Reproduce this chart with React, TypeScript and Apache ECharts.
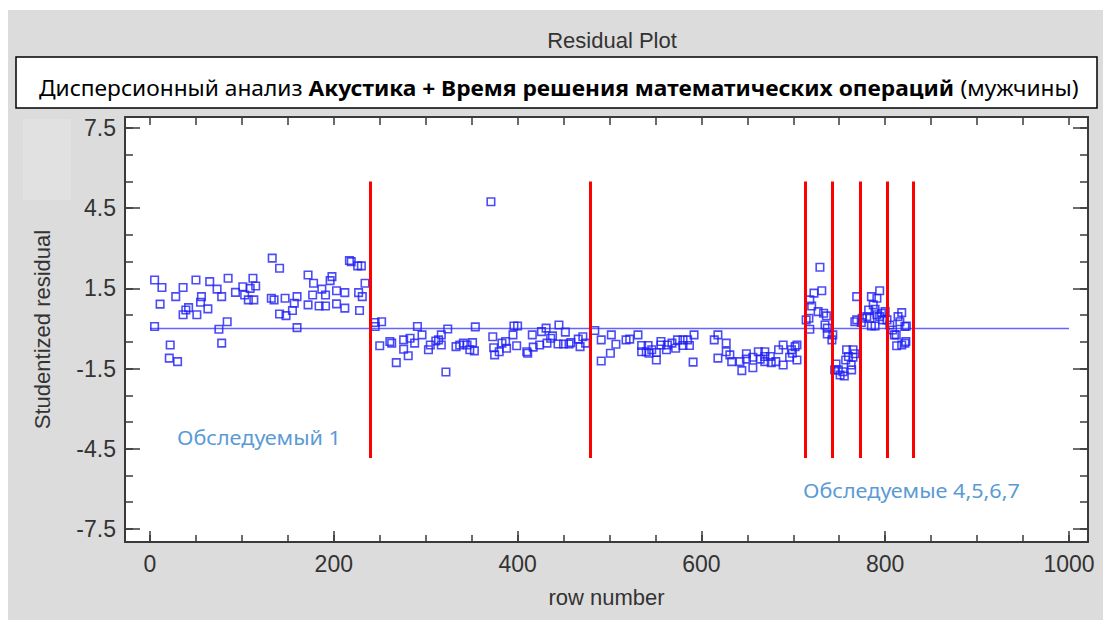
import React, { useEffect, useRef } from "react";
import * as echarts from "echarts";

// ---- Data (row number, studentized residual) ----
const subject1: [number, number][] = [
  [5, 1.81], [13, 1.53], [11, 0.91], [5, 0.07], [22, -0.62], [21, -1.11], [30, -1.24], [28, 1.19],
  [36, 1.53], [42, 0.78], [39, 0.69], [36, 0.51], [50, 1.81], [56, 1.19], [55, 0.98], [51, 0.51],
  [63, 0.73], [65, 1.75], [73, 1.47], [78, 1.19], [85, 1.88], [84, 0.25], [75, -0.03], [78, -0.55],
  [93, 1.35], [101, 1.56], [103, 1.25], [109, 1.5], [112, 1.88], [115, 1.59], [107, 1.07], [113, 1.07],
  [133, 2.63], [141, 2.25], [132, 1.13], [135, 1.07], [147, 1.13], [141, 0.54], [148, 0.48], [155, 0.67],
  [157, 0.94], [160, 1.19], [160, 0.03], [172, 2.0], [178, 1.69], [172, 0.88], [177, 1.25], [187, 1.47],
  [191, 1.25], [184, 0.84], [191, 0.84], [198, 1.94], [196, 1.79], [203, 1.41], [212, 1.34], [203, 0.92],
  [212, 0.76], [217, 2.54], [219, 2.5], [226, 2.34], [230, 2.34], [234, 1.69], [227, 1.34], [231, 1.19],
  [228, 0.67],
];

const subject2: [number, number][] = [
  [245, 0.22], [252, 0.25], [245, 0.07], [250, -0.65], [261, -0.49], [263, -0.55], [268, -1.28],
  [276, -0.43], [276, -0.78], [281, -1.02], [283, -0.37], [288, -0.55], [291, 0.07], [296, -0.24],
  [303, -0.8], [305, -0.62], [311, -0.47], [314, -0.43], [317, -0.62], [317, -0.24], [324, -0.02],
  [322, -1.63], [333, -0.68], [337, -0.62], [341, -0.55], [345, -0.62], [351, -0.53], [348, -0.8],
  [353, -0.84], [354, 0.06], [371, 4.74], [373, -0.31], [374, -0.72], [375, -0.99], [380, -0.87],
  [383, -0.55], [387, -0.49], [388, -0.74], [395, -0.24], [396, 0.09], [400, 0.09], [399, -0.65],
  [410, -0.87], [411, -0.93], [416, -0.24], [417, -0.7], [424, -0.62], [426, -0.12], [431, 0.01],
  [432, -0.55], [436, -0.37], [438, -0.28], [445, 0.13], [444, -0.58], [452, -0.14], [450, -0.58],
  [456, -0.58], [458, -0.53], [466, -0.4], [468, -0.68], [471, -0.31], [474, -0.55],
];

const subject3: [number, number][] = [
  [484, -0.08], [491, -0.43], [491, -1.22], [502, -0.24], [507, -0.59], [501, -0.93], [518, -0.43],
  [522, -0.4], [531, -0.24], [535, -0.64], [542, -0.64], [535, -0.87], [540, -0.87], [543, -0.93],
  [546, -0.8], [551, -1.18], [551, -0.9], [556, -0.49], [556, -0.62], [562, -0.8], [563, -0.62],
  [568, -0.55], [572, -0.74], [574, -0.43], [580, -0.43], [585, -0.43], [580, -0.64], [587, -0.64],
  [592, -0.24], [591, -1.26], [614, -0.43], [618, -0.24], [627, -0.55], [627, -0.87], [618, -1.11],
  [631, -0.99], [633, -1.24], [642, -1.24], [644, -1.58], [649, -0.95], [649, -1.15], [656, -1.08],
  [656, -1.47], [662, -0.87], [664, -1.15], [669, -0.87], [669, -1.05], [669, -1.24], [675, -1.05],
  [676, -1.28], [681, -1.24], [684, -0.8], [689, -0.62], [689, -1.37], [696, -1.08], [698, -0.8],
  [702, -0.68], [704, -0.62], [704, -1.18], [699, -0.93],
];

const subjects4to7: [number, number][] = [
  [729, 2.29], [731, 1.41], [722.5, 1.32], [718, 1.07], [720, 0.84], [727, 0.63], [733, 0.57],
  [736, 0.47], [714, 0.32], [717, 0.38], [718, -0.03], [734.5, 0.13], [737, 0.01], [737, -0.21],
  [743, -0.24], [742, -0.43], [746.5, -1.33], [749, -1.55], [751, -1.74], [745, -1.55], [754, -1.62],
  [755.5, -1.78], [758, -0.8], [760, -1.05], [757, -1.18], [763, -1.37], [763.5, -1.55], [765, -0.8],
  [767, -0.95], [765, -1.08], [769, 1.19], [767, 0.25], [769, 0.32], [775, 0.38], [774, 0.22],
  [780, 0.44], [782, 0.69], [785, 1.19], [787, 0.88], [791, 1.13], [794, 1.41], [789, 0.72],
  [791, 0.51], [783.5, 0.38], [785, 0.09], [789, 0.09], [794, 0.44], [796, 0.57], [797, 0.32],
  [800, 0.63], [802, 0.32], [805, 0.13], [808, -0.06], [810, -0.24], [812, -0.24], [812.5, -0.65],
  [814, 0.44], [816, 0.25], [818, 0.59], [821.5, 0.07], [823, 0.09], [818, -0.62], [821.5, -0.55],
  [822.5, -0.49],
];

// Subject boundaries (row numbers) and the vertical extent of the red separators
const separatorRows = [240, 479, 713, 742, 773, 802, 830];
const separatorTop = 5.5;
const separatorBottom = -4.85;

// Reference (zero) line
const zeroLine: [number, number][] = [[0, 0], [1000, 0]];

// Ticks / labels
const xLabelValues = [0, 200, 400, 600, 800, 1000];
const xMinorValues = Array.from({ length: 21 }, (_, i) => i * 50);
const yLabelValues = [7.5, 4.5, 1.5, -1.5, -4.5, -7.5];
const yMinorValues = Array.from({ length: 16 }, (_, i) => 7.5 - i);

const titleText = "Residual Plot";
const xName = "row number";
const yName = "Studentized residual";
const annotation1 = "Обследуемый 1";
const annotation2 = "Обследуемые 4,5,6,7";

const SANS = "'Liberation Sans', Arial, sans-serif";
const NOTO = "'Noto Sans', 'Open Sans', sans-serif";
const AXIS_COLOR = "#3a3a3a";
const LABEL_COLOR = "#333333";

export default function App() {
  const ref = useRef<HTMLDivElement>(null);

  useEffect(() => {
    if (!ref.current) return;
    const chart = echarts.init(ref.current, undefined, { renderer: "svg" });

    const xRange = { min: -27.2, max: 1020.7 };
    const yRange = { min: -7.99, max: 7.91 };

    const scatterStyle = {
      type: "scatter" as const,
      symbol: "rect",
      symbolSize: 7.5,
      xAxisIndex: 0,
      yAxisIndex: 0,
      itemStyle: { color: "rgba(255,255,255,0)", borderColor: "#1f1ff5", borderWidth: 1.6 },
      silent: true,
    };

    const option: any = {
      animation: false,
      backgroundColor: "#ffffff",
      grid: { left: 125, top: 117, width: 963, height: 425, show: false },
      graphic: [
        { type: "rect", z: -10, shape: { x: 8, y: 10, width: 1095, height: 610 }, style: { fill: "#dcdcdc" } },
        { type: "rect", z: -10, shape: { x: 23, y: 119, width: 48, height: 81 }, style: { fill: "#e1e1e1" } },
        { type: "rect", z: -10, shape: { x: 125, y: 117, width: 963, height: 425 }, style: { fill: "#ffffff" } },
        {
          type: "rect", z: -9, shape: { x: 16, y: 57, width: 1081, height: 51 },
          style: { fill: "#ffffff", stroke: "#000000", lineWidth: 1.5 },
        },
        {
          type: "text", z: 10, x: 612, y: 40,
          style: {
            text: titleText, fontSize: 22, fontFamily: SANS, fill: LABEL_COLOR,
            align: "center", verticalAlign: "middle", textAlign: "center", textVerticalAlign: "middle",
          },
        },
        {
          type: "text", z: 10, x: 39, y: 88, scaleX: 1.082,
          style: {
            text: "{n|Дисперсионный анализ }{b|Акустика + Время решения математических операций}{n| (мужчины)}",
            fontSize: 21, fontFamily: NOTO, fill: "#000000",
            verticalAlign: "middle", textVerticalAlign: "middle",
            rich: {
              n: { fontSize: 21, fontFamily: NOTO, fill: "#000000", color: "#000000" },
              b: { fontSize: 21, fontFamily: NOTO, fontWeight: "bold", fill: "#000000", color: "#000000" },
            },
          },
        },
        {
          type: "text", z: 10, x: 177, y: 437, scaleX: 1.08,
          style: {
            text: annotation1, fontSize: 20, fontFamily: NOTO, fill: "#5b9bd5",
            verticalAlign: "middle", textVerticalAlign: "middle",
          },
        },
        {
          type: "text", z: 10, x: 803, y: 490, scaleX: 1.08,
          style: {
            text: annotation2, fontSize: 20, fontFamily: NOTO, fill: "#5b9bd5",
            verticalAlign: "middle", textVerticalAlign: "middle",
          },
        },
      ],
      xAxis: [
        {
          type: "value", position: "bottom", ...xRange,
          axisLine: { show: true, onZero: false, lineStyle: { color: AXIS_COLOR, width: 2 } },
          axisTick: { show: true, inside: true, length: 11, customValues: xLabelValues, lineStyle: { color: AXIS_COLOR, width: 1.5 } },
          axisLabel: {
            show: true, customValues: xLabelValues, margin: 10, fontSize: 23, fontFamily: SANS, color: LABEL_COLOR,
            formatter: (v: number) => String(v),
          },
          splitLine: { show: false },
          name: xName, nameLocation: "middle", nameGap: 44,
          nameTextStyle: { fontSize: 22, fontFamily: SANS, color: LABEL_COLOR },
        },
        {
          type: "value", position: "bottom", ...xRange,
          axisLine: { show: false, onZero: false },
          axisTick: { show: true, inside: true, length: 7, customValues: xMinorValues, lineStyle: { color: AXIS_COLOR, width: 1.5 } },
          axisLabel: { show: false },
          splitLine: { show: false },
        },
        {
          type: "value", position: "top", ...xRange,
          axisLine: { show: true, onZero: false, lineStyle: { color: AXIS_COLOR, width: 2 } },
          axisTick: { show: true, inside: true, length: 8, customValues: xMinorValues, lineStyle: { color: AXIS_COLOR, width: 1.5 } },
          axisLabel: { show: false },
          splitLine: { show: false },
        },
      ],
      yAxis: [
        {
          type: "value", position: "left", ...yRange,
          axisLine: { show: true, onZero: false, lineStyle: { color: AXIS_COLOR, width: 2 } },
          axisTick: { show: true, inside: true, length: 15, customValues: yLabelValues, lineStyle: { color: AXIS_COLOR, width: 1.5 } },
          axisLabel: {
            show: true, customValues: yLabelValues, margin: 9, fontSize: 23, fontFamily: SANS, color: LABEL_COLOR,
            formatter: (v: number) => String(v),
          },
          splitLine: { show: false },
          name: yName, nameLocation: "middle", nameGap: 72, nameRotate: 90,
          nameTextStyle: { fontSize: 22, fontFamily: SANS, color: LABEL_COLOR },
        },
        {
          type: "value", position: "left", ...yRange,
          axisLine: { show: false, onZero: false },
          axisTick: { show: true, inside: true, length: 8, customValues: yMinorValues, lineStyle: { color: AXIS_COLOR, width: 1.5 } },
          axisLabel: { show: false },
          splitLine: { show: false },
        },
        {
          type: "value", position: "right", ...yRange,
          axisLine: { show: true, onZero: false, lineStyle: { color: AXIS_COLOR, width: 2 } },
          axisTick: { show: true, inside: true, length: 15, customValues: yLabelValues, lineStyle: { color: AXIS_COLOR, width: 1.5 } },
          axisLabel: { show: false },
          splitLine: { show: false },
        },
        {
          type: "value", position: "right", ...yRange,
          axisLine: { show: false, onZero: false },
          axisTick: { show: true, inside: true, length: 8, customValues: yMinorValues, lineStyle: { color: AXIS_COLOR, width: 1.5 } },
          axisLabel: { show: false },
          splitLine: { show: false },
        },
      ],
      series: [
        {
          name: "zero",
          type: "line",
          xAxisIndex: 0,
          yAxisIndex: 0,
          data: zeroLine,
          symbol: "none",
          lineStyle: { color: "#6464ff", width: 1.5 },
          silent: true,
          z: 1,
        },
        { ...scatterStyle, name: "Обследуемый 1", data: subject1 },
        { ...scatterStyle, name: "Обследуемый 2", data: subject2 },
        { ...scatterStyle, name: "Обследуемый 3", data: subject3 },
        { ...scatterStyle, name: "Обследуемые 4-7", data: subjects4to7 },
        {
          name: "separators",
          type: "line",
          xAxisIndex: 0,
          yAxisIndex: 0,
          data: [],
          z: 5,
          markLine: {
            silent: true,
            symbol: ["none", "none"],
            label: { show: false },
            lineStyle: { color: "#ff0000", width: 3, type: "solid" },
            data: separatorRows.map((r) => [
              { coord: [r, separatorTop] },
              { coord: [r, separatorBottom] },
            ]),
          },
        },
      ],
    };

    chart.setOption(option);
    return () => chart.dispose();
  }, []);

  return (
    <div
      ref={ref}
      style={{ position: "fixed", left: 0, top: 0, width: 1109, height: 625 }}
    />
  );
}
